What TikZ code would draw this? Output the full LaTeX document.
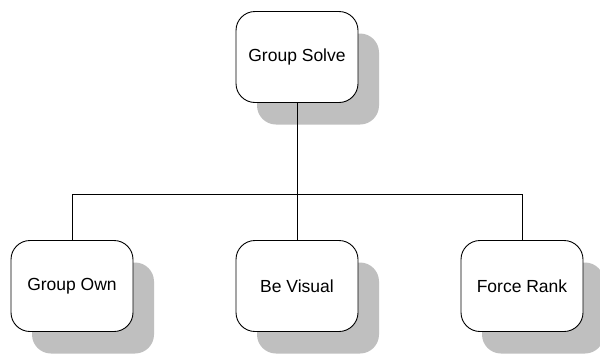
\documentclass[tikz,border=0pt]{standalone}
\usepackage{fontspec}
\setmainfont{Liberation Sans}
\begin{document}
\begin{tikzpicture}[x=1pt,y=-1pt,
  box/.style={draw=black, line width=0.9pt, fill=white, rounded corners=19pt,
    minimum width=122pt, minimum height=91pt, inner sep=0pt, font=\fontsize{17.5}{20}\selectfont},
  shadowbox/.style={fill=black!25, rounded corners=19pt, minimum width=122pt, minimum height=91pt, inner sep=0pt},
  conn/.style={line width=0.9pt}]
\useasboundingbox (0,0) rectangle (600,354);
\fill[white] (0,0) rectangle (600,354);
% shadows
\node[shadowbox] at (318,79) {};
\node[shadowbox] at (93,308) {};
\node[shadowbox] at (318,308) {};
\node[shadowbox] at (543,308) {};
% boxes
\node[box] (top) at (297,57) {Group Solve};
\node[box] (own) at (72,286) {Group Own};
\node[box] (vis) at (297,286) {Be Visual};
\node[box] (rank) at (522,286) {Force Rank};
\coordinate (j) at (297,194);
\draw[conn] (top.south) -- (j);
\draw[conn] (j) -| (own.north);
\draw[conn] (j) -- (vis.north);
\draw[conn] (j) -| (rank.north);
\end{tikzpicture}
\end{document}
